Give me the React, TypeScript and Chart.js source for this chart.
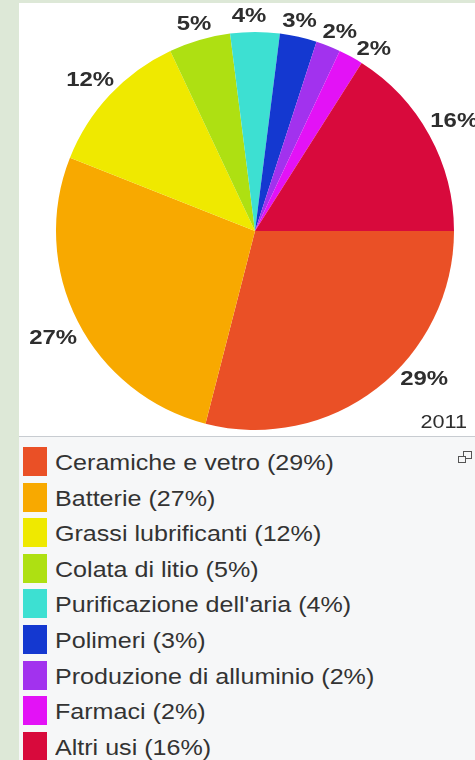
import React, { useEffect, useRef } from "react";
import { Chart, registerables } from "chart.js";

Chart.register(...registerables);

const categories = [
  "Ceramiche e vetro",
  "Batterie",
  "Grassi lubrificanti",
  "Colata di litio",
  "Purificazione dell'aria",
  "Polimeri",
  "Produzione di alluminio",
  "Farmaci",
  "Altri usi",
];
const shares = [29, 27, 12, 5, 4, 3, 2, 2, 16];
const colors = [
  "#ea5026",
  "#f8a900",
  "#efe900",
  "#aee012",
  "#3de0d2",
  "#1438d0",
  "#a232ee",
  "#e312f6",
  "#d80a3c",
];
const yearLabel = "2011";

const SX = 1.14;
// small angular nudges (degrees) for label placement, as in the original layout
const labelNudge = [-9, -2.5, 1.5, 0.5, -1.5, -1.2, 0.5, 3, -2];

const labelPlugin = {
  id: "pctLabels",
  afterDatasetsDraw(chart: any) {
    const ctx = chart.ctx as CanvasRenderingContext2D;
    const meta = chart.getDatasetMeta(0);
    ctx.save();
    ctx.fillStyle = "#2e2e2e";
    ctx.font = "bold 21px 'Liberation Sans', Arial, sans-serif";
    ctx.textAlign = "center";
    ctx.textBaseline = "middle";
    meta.data.forEach((arc: any, i: number) => {
      const { x, y, startAngle, endAngle, outerRadius } = arc.getProps(
        ["x", "y", "startAngle", "endAngle", "outerRadius"],
        true
      );
      const mid = (startAngle + endAngle) / 2 + (labelNudge[i] * Math.PI) / 180;
      const txt = shares[i] + "%";
      const w = ctx.measureText(txt).width * SX;
      const h = 15;
      const d = outerRadius + 9;
      const cx = x + d * Math.cos(mid) + (w / 2) * Math.cos(mid);
      const cy = y + d * Math.sin(mid) + (h / 2) * Math.sin(mid) + 1;
      ctx.save();
      ctx.translate(cx, cy);
      ctx.scale(SX, 1);
      ctx.fillText(txt, 0, 0);
      ctx.restore();
    });
    // year stamp
    ctx.font = "19px 'Liberation Sans', Arial, sans-serif";
    ctx.textAlign = "right";
    ctx.textBaseline = "alphabetic";
    ctx.fillStyle = "#2e2e2e";
    ctx.save();
    ctx.translate(chart.width - 8, 425);
    ctx.scale(SX, 1);
    ctx.fillText(yearLabel, 0, 0);
    ctx.restore();
    ctx.restore();
  },
};

export default function App() {
  const ref = useRef<HTMLCanvasElement | null>(null);

  useEffect(() => {
    if (!ref.current) return;
    const chart = new Chart(ref.current, {
      type: "pie",
      data: {
        labels: categories,
        datasets: [
          {
            data: shares,
            backgroundColor: colors,
            borderWidth: 0,
          },
        ],
      },
      options: {
        animation: false,
        responsive: false,
        devicePixelRatio: 1,
        rotation: 90,
        layout: { padding: { left: 37, right: 21, top: 29, bottom: 6 } },
        plugins: {
          legend: { display: false },
          tooltip: { enabled: false },
        },
      },
      plugins: [labelPlugin],
    });
    return () => chart.destroy();
  }, []);

  return (
    <div
      style={{
        position: "absolute",
        left: 0,
        top: 0,
        width: 475,
        height: 760,
        background: "#dde8d7",
        overflow: "hidden",
      }}
    >
      <div
        style={{
          position: "absolute",
          left: 19,
          top: 3,
          width: 456,
          height: 433,
          background: "#ffffff",
          borderBottom: "1px solid #c8ccd1",
        }}
      >
        <canvas ref={ref} width={456} height={433} style={{ display: "block" }} />
      </div>
      <div
        style={{
          position: "absolute",
          left: 19,
          top: 437,
          width: 456,
          height: 323,
          background: "#f6f7f8",
          fontFamily: "'Liberation Sans', Arial, sans-serif",
        }}
      >
        {/* enlarge icon */}
        <div
          style={{
            position: "absolute",
            left: 444,
            top: 14,
            width: 7,
            height: 6,
            border: "1px solid #555",
          }}
        />
        <div
          style={{
            position: "absolute",
            left: 439,
            top: 19,
            width: 6,
            height: 5,
            border: "1px solid #555",
            background: "#f6f7f8",
          }}
        />
        {categories.map((c, i) => {
          const top = 10 + i * 35.6;
          return (
            <div key={c}>
              <div
                style={{
                  position: "absolute",
                  left: 4,
                  top,
                  width: 24,
                  height: 29,
                  background: colors[i],
                }}
              />
              <div
                style={{
                  position: "absolute",
                  left: 36,
                  top: top + 1,
                  height: 29,
                  lineHeight: "29px",
                  fontSize: 22,
                  color: "#333",
                  whiteSpace: "nowrap",
                  transform: `scaleX(${SX})`,
                  transformOrigin: "left center",
                }}
              >
                {c} ({shares[i]}%)
              </div>
            </div>
          );
        })}
      </div>
    </div>
  );
}
